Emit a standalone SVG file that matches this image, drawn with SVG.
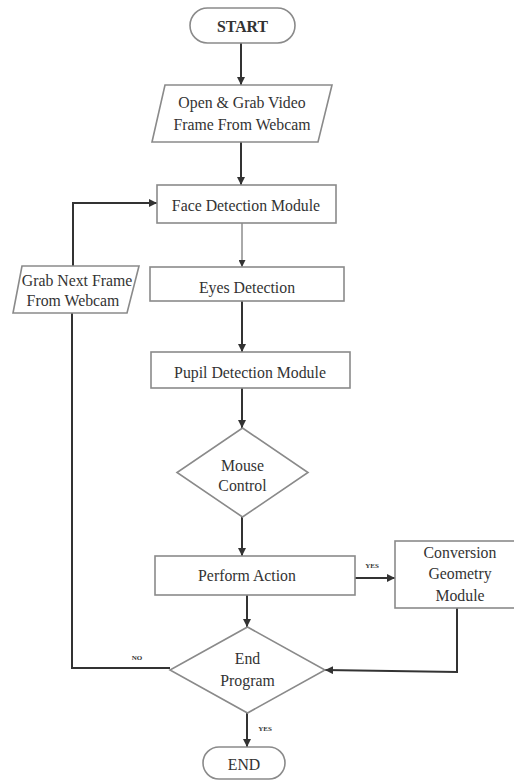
<svg xmlns="http://www.w3.org/2000/svg" width="514" height="780" viewBox="0 0 514 780">
<style>
.shape{fill:#fff;stroke:#8a8a8a;stroke-width:1.6}
.t{font-family:"Liberation Serif","Times New Roman",serif;font-size:15.8px;fill:#333;text-anchor:middle;dominant-baseline:central}
.lbl{font-family:"Liberation Serif","Times New Roman",serif;font-size:7px;font-weight:bold;fill:#333;text-anchor:middle;dominant-baseline:central}
.c{fill:none;stroke:#333;stroke-width:2}
.thin{fill:none;stroke:#555;stroke-width:1}
</style>
<defs>
<marker id="ah" viewBox="0 0 10 10" refX="10" refY="5" markerWidth="4" markerHeight="4" orient="auto" markerUnits="strokeWidth">
<path d="M0,0 L10,5 L0,10 z" fill="#333"/>
</marker>
<marker id="ah2" viewBox="0 0 10 10" refX="10" refY="5" markerWidth="7" markerHeight="7" orient="auto" markerUnits="strokeWidth">
<path d="M0,0 L10,5 L0,10 z" fill="#333"/>
</marker>
</defs>
<g id="connectors">
<line class="c" x1="241" y1="43" x2="241" y2="85" marker-end="url(#ah)"/>
<line class="c" x1="241" y1="142" x2="241" y2="185" marker-end="url(#ah)"/>
<line class="thin" x1="242" y1="223" x2="242" y2="267" marker-end="url(#ah2)"/>
<line class="c" x1="242" y1="301" x2="242" y2="352" marker-end="url(#ah)"/>
<line class="c" x1="242" y1="388" x2="242" y2="428" marker-end="url(#ah)"/>
<line class="c" x1="242" y1="517" x2="242" y2="556" marker-end="url(#ah)"/>
<line class="c" x1="247" y1="595" x2="247" y2="627" marker-end="url(#ah)"/>
<line class="c" x1="247" y1="713" x2="247" y2="747" marker-end="url(#ah)"/>
<line class="c" x1="355" y1="578" x2="395" y2="578" stroke-width="2.4" marker-end="url(#ah)"/>
<polyline class="c" points="457,608 457,672 325,670" marker-end="url(#ah)"/>
<polyline class="c" points="170,668 72,668 72,313"/>
<polyline class="c" points="73,266 73,203 157,203" marker-end="url(#ah)"/>
<text class="lbl" x="372" y="566">YES</text>
<text class="lbl" x="137" y="658">NO</text>
<text class="lbl" x="265" y="729">YES</text>
</g>
<g id="start">
<rect class="shape" x="190" y="8" width="105" height="35" rx="17.5"/>
<text class="t" x="242.5" y="26" font-weight="bold" font-size="15">START</text>
</g>
<g id="open-grab">
<polygon class="shape" points="165,85 332,85 318,142 152,142"/>
<text class="t" x="242" y="102">Open &amp; Grab Video</text>
<text class="t" x="242" y="124">Frame From Webcam</text>
</g>
<g id="face">
<rect class="shape" x="157" y="185" width="179" height="38"/>
<text class="t" x="246" y="205">Face Detection Module</text>
</g>
<g id="eyes">
<rect class="shape" x="150" y="267" width="194" height="34"/>
<text class="t" x="247" y="287">Eyes Detection</text>
</g>
<g id="pupil">
<rect class="shape" x="151" y="352" width="199" height="36"/>
<text class="t" x="250" y="372">Pupil Detection Module</text>
</g>
<g id="grab-next">
<polygon class="shape" points="22,266 139,266 127,313 13,313"/>
<text class="t" x="77" y="280">Grab Next Frame</text>
<text class="t" x="73" y="300">From Webcam</text>
</g>
<g id="mouse">
<polygon class="shape" points="242.5,428 308,472.5 242.5,517 177,472.5"/>
<text class="t" x="242.5" y="465">Mouse</text>
<text class="t" x="242.5" y="485">Control</text>
</g>
<g id="perform">
<rect class="shape" x="155" y="556" width="200" height="39"/>
<text class="t" x="247" y="575">Perform Action</text>
</g>
<g id="conversion">
<rect class="shape" x="395" y="541" width="125" height="67"/>
<text class="t" x="460" y="552" font-size="17">Conversion</text>
<text class="t" x="460" y="573" font-size="17">Geometry</text>
<text class="t" x="460" y="595" font-size="17">Module</text>
</g>
<g id="end-program">
<polygon class="shape" points="247.5,627 325,670 247.5,713 170,670"/>
<text class="t" x="247.5" y="658" font-size="17.5">End</text>
<text class="t" x="247.5" y="680" font-size="17.5">Program</text>
</g>
<g id="end">
<rect class="shape" x="203" y="747" width="82" height="32" rx="16"/>
<text class="t" x="244" y="764" font-size="15">END</text>
</g>
</svg>
